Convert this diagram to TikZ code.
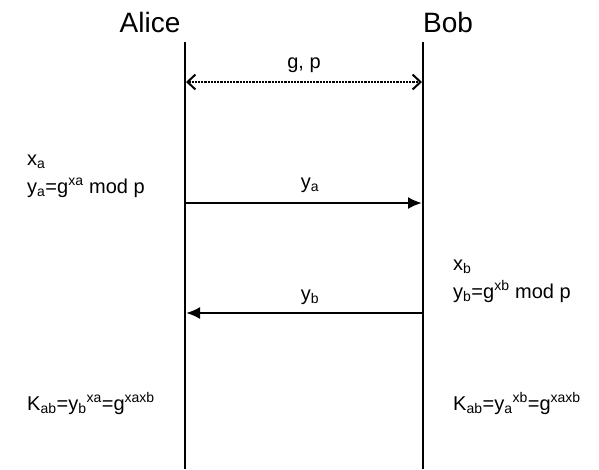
\documentclass[tikz,border=0pt]{standalone}
\usepackage{fontspec}
\setmainfont{Liberation Sans}
\usetikzlibrary{arrows.meta,positioning}

\begin{document}
\begin{tikzpicture}[x=1pt,y=-1pt,
  lbl/.style={font=\fontsize{20}{28}\selectfont,inner sep=0pt,anchor=base west,align=left},
  head/.style={font=\fontsize{28}{32}\selectfont,inner sep=0pt,anchor=base},
  life/.style={line width=2.2pt},
  msg/.style={line width=2.2pt,-{Latex[length=14pt,width=12pt]}},
  share/.style={line width=2.2pt,densely dotted,
    {Straight Barb[length=8pt,width=15pt,line width=2pt]}-{Straight Barb[length=8pt,width=15pt,line width=2pt]}}]
\useasboundingbox (0,0) rectangle (599,469);
\node[head] (alice) at (150,32) {Alice};
\node[head] (bob) at (448,32) {Bob};
% lifelines
\coordinate (atop) at (185,42);
\coordinate (abot) at (185,469);
\coordinate (btop) at (423,42);
\coordinate (bbot) at (423,469);
\draw[life] (atop) -- (abot);
\draw[life] (btop) -- (bbot);
% messages
\coordinate (gpa) at (186,82);
\coordinate (gpb) at (422,82);
\coordinate (yaa) at (185,203);
\coordinate (yab) at (422,203);
\coordinate (yba) at (186,313);
\coordinate (ybb) at (423,313);
\draw[share] (gpa) -- (gpb);
\draw[msg] (yaa) -- (yab);
\draw[msg] (ybb) -- (yba);
\node[lbl,anchor=base] (gp) at (304,68) {g, p};
\node[lbl,anchor=base] (ya) at (310,188) {y\textsubscript{a}};
\node[lbl,anchor=base] (yb) at (310,300) {y\textsubscript{b}};
% computations (base = last line)
\node[lbl] (xa) at (27,193) {x\textsubscript{a}\\y\textsubscript{a}=g\textsuperscript{xa} mod p};
\node[lbl] (xb) at (453,298) {x\textsubscript{b}\\y\textsubscript{b}=g\textsuperscript{xb} mod p};
\node[lbl] (ka) at (27,410) {K\textsubscript{ab}=y\textsubscript{b}\textsuperscript{xa}=g\textsuperscript{xaxb}};
\node[lbl] (kb) at (453,410) {K\textsubscript{ab}=y\textsubscript{a}\textsuperscript{xb}=g\textsuperscript{xaxb}};
\end{tikzpicture}
\end{document}
